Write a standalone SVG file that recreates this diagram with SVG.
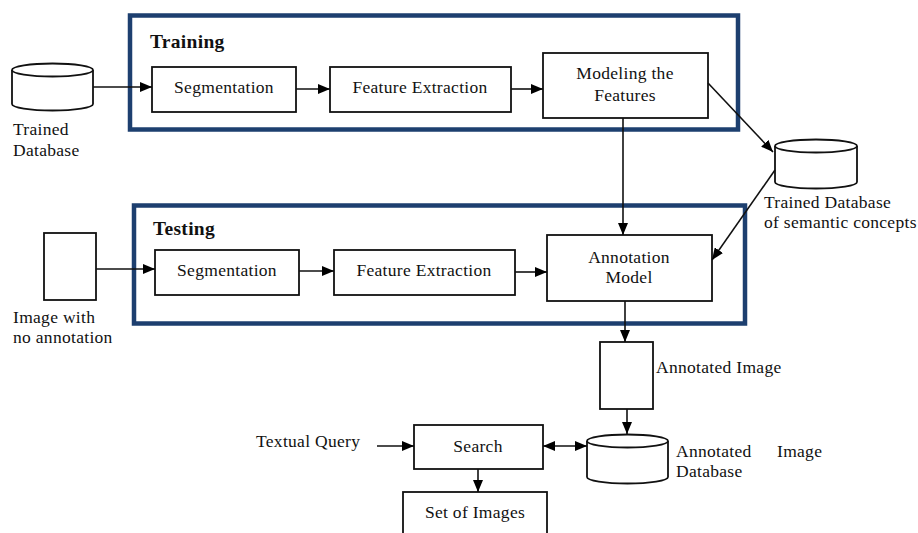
<svg xmlns="http://www.w3.org/2000/svg" width="918" height="533" viewBox="0 0 918 533">
<defs>
<marker id="ah" viewBox="0 0 12 10" refX="12" refY="5" markerWidth="12" markerHeight="10" markerUnits="userSpaceOnUse" orient="auto-start-reverse">
<path d="M0,0 L12,5 L0,10 z" fill="#000"/>
</marker>
<style>
text{font-family:"Liberation Serif","Times New Roman",serif;font-size:17.5px;letter-spacing:0.3px;fill:#111}
.c{text-anchor:middle}
.b{font-weight:bold;font-size:19.5px}
.box{fill:#fff;stroke:#111;stroke-width:1.8}
.frame{fill:none;stroke:#1d3f6f;stroke-width:4.5}
.ln{fill:none;stroke:#111;stroke-width:1.6;marker-end:url(#ah)}
</style>
</defs>
<rect width="918" height="533" fill="#fff"/>

<g id="training">
<rect class="frame" x="130" y="15.5" width="608" height="114"/>
<text class="b" x="150" y="48">Training</text>
</g>
<g id="testing">
<rect class="frame" x="134" y="205.5" width="611" height="118"/>
<text class="b" x="153" y="235">Testing</text>
</g>

<g id="trained-db">
<path class="box" d="M12,70 A40.5,6.5 0 0 1 93,70 L93,104 A40.5,6.5 0 0 1 12,104 Z"/>
<path d="M12,70 A40.5,6.5 0 0 0 93,70" fill="none" stroke="#111" stroke-width="1.8"/>
<text x="13" y="135">Trained</text>
<text x="13" y="156">Database</text>
</g>

<g id="seg1">
<rect class="box" x="152" y="67" width="144" height="45"/>
<text class="c" x="224" y="93">Segmentation</text>
</g>
<g id="fe1">
<rect class="box" x="330" y="67" width="181" height="45"/>
<text class="c" x="420" y="93">Feature Extraction</text>
</g>
<g id="model">
<rect class="box" x="543" y="53" width="165" height="65"/>
<text class="c" x="625" y="79">Modeling the</text>
<text class="c" x="625" y="101">Features</text>
</g>

<g id="sem-db">
<path class="box" d="M775,146 A41,6.5 0 0 1 857,146 L857,182 A41,6.5 0 0 1 775,182 Z"/>
<path d="M775,146 A41,6.5 0 0 0 857,146" fill="none" stroke="#111" stroke-width="1.8"/>
<text x="764" y="208">Trained Database</text>
<text x="764" y="228">of semantic concepts</text>
</g>

<g id="img-noann">
<rect class="box" x="44" y="233" width="52" height="67"/>
<text x="13" y="323">Image with</text>
<text x="13" y="343">no annotation</text>
</g>

<g id="seg2">
<rect class="box" x="155" y="250" width="144" height="45"/>
<text class="c" x="227" y="276">Segmentation</text>
</g>
<g id="fe2">
<rect class="box" x="334" y="250" width="181" height="45"/>
<text class="c" x="424" y="276">Feature Extraction</text>
</g>
<g id="annmodel">
<rect class="box" x="547" y="235" width="165" height="66"/>
<text class="c" x="629" y="263">Annotation</text>
<text class="c" x="629" y="283">Model</text>
</g>

<g id="ann-img">
<rect class="box" x="600" y="342" width="53" height="67"/>
<text x="656" y="373">Annotated Image</text>
</g>

<g id="ann-db">
<path class="box" d="M587,441 A40.5,6.5 0 0 1 668,441 L668,477 A40.5,6.5 0 0 1 587,477 Z"/>
<path d="M587,441 A40.5,6.5 0 0 0 668,441" fill="none" stroke="#111" stroke-width="1.8"/>
<text x="676" y="457">Annotated</text>
<text x="777" y="457">Image</text>
<text x="676" y="477">Database</text>
</g>

<g id="query">
<text x="256" y="447">Textual Query</text>
</g>
<g id="search">
<rect class="box" x="414" y="425" width="129" height="44"/>
<text class="c" x="478" y="452">Search</text>
</g>
<g id="set">
<rect class="box" x="403" y="492" width="144" height="50"/>
<text class="c" x="475" y="518">Set of Images</text>
</g>

<g id="connectors">
<line class="ln" x1="93" y1="87" x2="152" y2="87"/>
<line class="ln" x1="296" y1="89" x2="330" y2="89"/>
<line class="ln" x1="511" y1="89" x2="543" y2="89"/>
<line class="ln" x1="708" y1="83" x2="773" y2="152"/>
<line class="ln" x1="623" y1="118" x2="623" y2="235"/>
<line class="ln" x1="775" y1="170" x2="712" y2="260"/>
<line class="ln" x1="96" y1="269" x2="155" y2="269"/>
<line class="ln" x1="299" y1="271" x2="334" y2="271"/>
<line class="ln" x1="515" y1="272" x2="547" y2="272"/>
<line class="ln" x1="625" y1="301" x2="625" y2="342"/>
<line class="ln" x1="627" y1="409" x2="627" y2="434"/>
<line class="ln" x1="377" y1="446" x2="414" y2="446"/>
<line class="ln" x1="543" y1="446" x2="587" y2="446" marker-start="url(#ah)"/>
<line class="ln" x1="478" y1="469" x2="478" y2="492"/>
</g>
</svg>
